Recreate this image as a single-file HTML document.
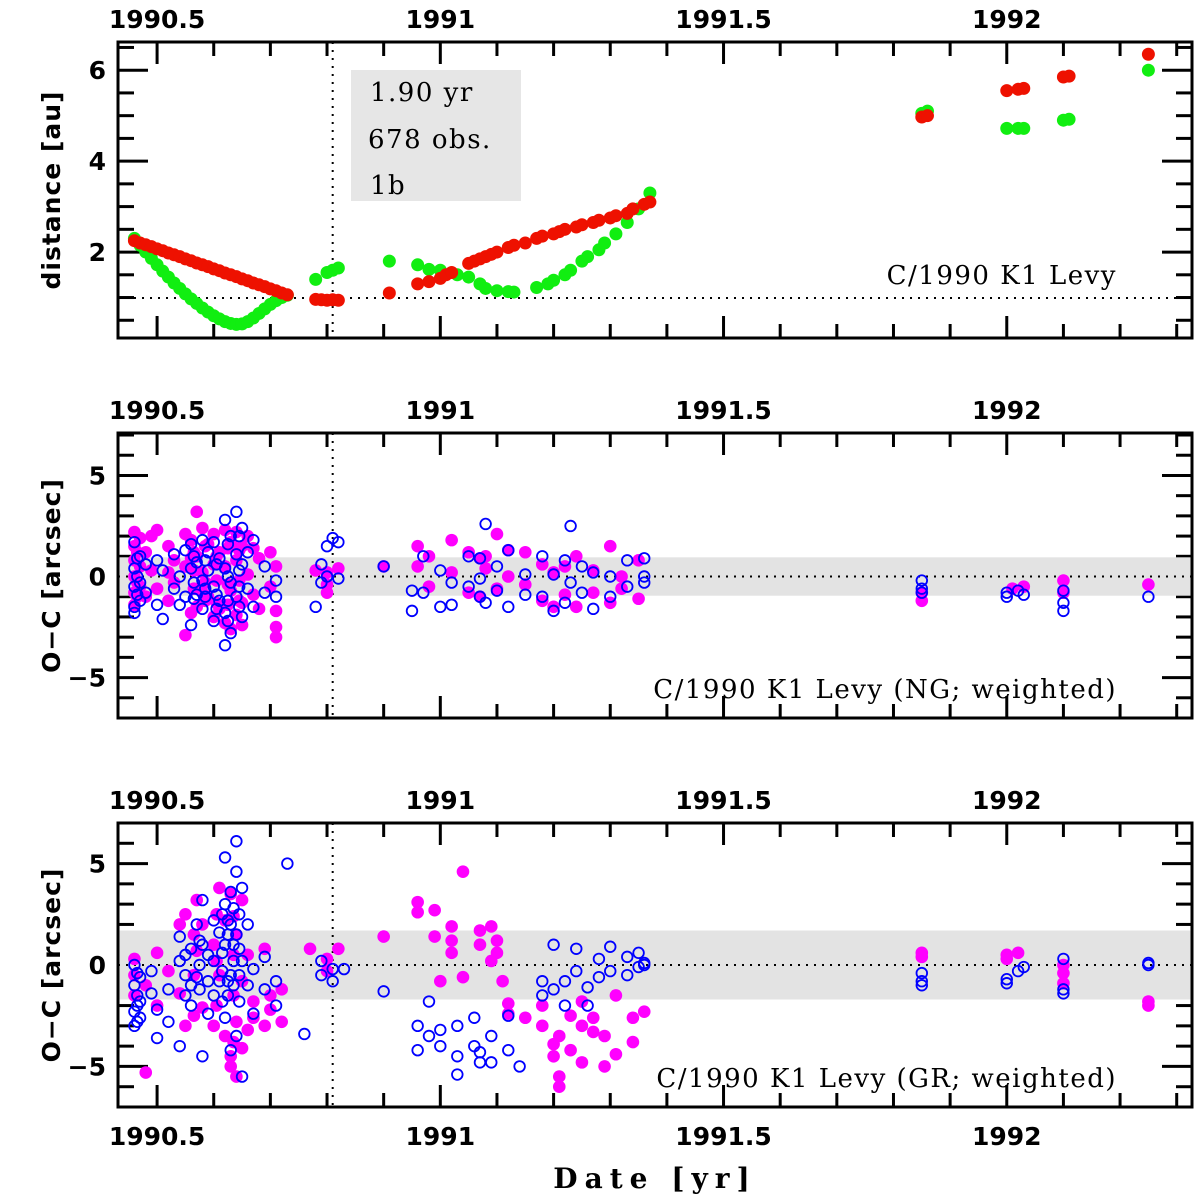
<!DOCTYPE html>
<html><head><meta charset="utf-8">
<style>
html,body{margin:0;padding:0;background:#fff;}
svg{display:block;}
text{font-family:"DejaVu Sans","Liberation Sans",sans-serif;font-weight:bold;fill:#000;}
.ann{font-family:"DejaVu Serif","Liberation Serif",serif;font-weight:normal;font-size:26px;letter-spacing:1.5px;}
</style></head>
<body>
<svg id="chart" width="1200" height="1204" viewBox="0 0 1200 1204" xmlns="http://www.w3.org/2000/svg"></svg>
<script>
// ---- data ----
const xTickLabels = [1990.5, 1991, 1991.5, 1992];
const distRedX = [1990.46,1990.47,1990.48,1990.49,1990.50,1990.51,1990.52,1990.53,1990.54,1990.55,1990.56,1990.57,1990.58,1990.59,1990.60,1990.61,1990.62,1990.63,1990.64,1990.65,1990.66,1990.67,1990.68,1990.69,1990.70,1990.71,1990.72,1990.73,1990.78,1990.79,1990.80,1990.81,1990.82,1990.91,1990.96,1990.98,1991.00,1991.01,1991.02,1991.05,1991.06,1991.07,1991.08,1991.09,1991.10,1991.12,1991.13,1991.15,1991.17,1991.18,1991.20,1991.21,1991.22,1991.24,1991.25,1991.27,1991.28,1991.30,1991.31,1991.33,1991.34,1991.36,1991.37,1991.85,1991.86,1992.00,1992.02,1992.03,1992.10,1992.11,1992.25];
const distRedY = [2.25,2.2,2.16,2.12,2.07,2.03,1.98,1.94,1.9,1.85,1.81,1.76,1.72,1.68,1.63,1.59,1.54,1.5,1.46,1.41,1.37,1.32,1.28,1.24,1.19,1.15,1.1,1.06,0.96,0.95,0.94,0.95,0.94,1.1,1.3,1.35,1.42,1.5,1.55,1.75,1.8,1.85,1.9,1.95,2.0,2.1,2.15,2.2,2.3,2.35,2.4,2.45,2.5,2.55,2.6,2.65,2.7,2.75,2.8,2.85,2.95,3.05,3.1,4.97,5.0,5.55,5.58,5.6,5.85,5.87,6.35];
const distGreenX = [1990.46,1990.47,1990.48,1990.49,1990.50,1990.51,1990.52,1990.53,1990.54,1990.55,1990.56,1990.57,1990.58,1990.59,1990.60,1990.61,1990.62,1990.63,1990.64,1990.65,1990.66,1990.67,1990.68,1990.69,1990.70,1990.71,1990.72,1990.73,1990.78,1990.80,1990.81,1990.82,1990.91,1990.96,1990.98,1991.00,1991.03,1991.05,1991.07,1991.08,1991.10,1991.12,1991.13,1991.17,1991.19,1991.20,1991.22,1991.23,1991.25,1991.26,1991.28,1991.29,1991.31,1991.33,1991.35,1991.37,1991.85,1991.86,1992.00,1992.02,1992.03,1992.10,1992.11,1992.25];
const distGreenY = [2.3,2.15,2.0,1.86,1.72,1.58,1.45,1.32,1.2,1.08,0.97,0.87,0.77,0.68,0.6,0.53,0.47,0.43,0.41,0.42,0.47,0.55,0.65,0.75,0.85,0.93,1.0,1.05,1.4,1.55,1.6,1.65,1.8,1.72,1.62,1.6,1.5,1.45,1.3,1.2,1.15,1.13,1.12,1.22,1.3,1.38,1.5,1.6,1.8,1.9,2.05,2.2,2.4,2.65,2.95,3.3,5.05,5.1,4.72,4.72,4.72,4.9,4.92,6.0];
// O-C groups: [year, [values...]]
const ngMagenta = [[1990.46,[2.2,1.5,0.8,0,-0.8,-1.4]],[1990.465,[1.2,-0.3,-1.0]],[1990.47,[1.9,0.5,-0.5]],[1990.48,[1.2,-1.0]],[1990.49,[2.0,0.3]],[1990.50,[2.3,-0.6]],[1990.52,[1.5,0.2,-1.2]],[1990.53,[0.8,-0.3]],[1990.55,[2.1,-2.9,0.5]],[1990.56,[1.8,-1.8,0.9]],[1990.565,[1.2,0.3,-0.6]],[1990.57,[3.2,1.0,-1.5]],[1990.58,[2.4,0.2,-0.8]],[1990.585,[1.5,-0.3,-1.2]],[1990.59,[1.6,-1.0]],[1990.60,[2.1,-2.0,0.6]],[1990.605,[1.0,-0.2,-1.3]],[1990.61,[1.2,-1.6]],[1990.62,[2.3,0.5,-2.3]],[1990.625,[1.4,-0.4,-1.4]],[1990.63,[1.7,-0.7,-2.6]],[1990.64,[2.2,0.8,-1.9]],[1990.645,[1.3,-0.2,-1.2]],[1990.65,[1.5,-1.3,-2.4]],[1990.66,[2.0,0.1]],[1990.67,[1.4,-0.9]],[1990.68,[0.9,-1.6]],[1990.70,[1.2,-0.5]],[1990.71,[-1.7,-2.5,-3.0,0.5]],[1990.78,[0.3]],[1990.80,[0.2,-0.4,-0.8]],[1990.82,[0.4]],[1990.90,[0.5]],[1990.96,[1.5,0.5]],[1990.98,[1.0,-0.5]],[1991.02,[1.8,0.2]],[1991.05,[1.2,-0.8]],[1991.07,[0.9,-1.0]],[1991.08,[1.0,0.4]],[1991.10,[2.1,-0.6]],[1991.12,[1.3,0.0]],[1991.15,[1.2,-0.4]],[1991.18,[0.6,-1.2]],[1991.20,[-1.5,0.2]],[1991.22,[0.5,-0.9]],[1991.24,[1.0,-1.5]],[1991.27,[0.3,-0.8]],[1991.30,[-1.3,1.5]],[1991.32,[0.0,-0.6]],[1991.35,[0.8,-1.1]],[1991.85,[-0.8,-1.2]],[1992.01,[-0.6]],[1992.03,[-0.5]],[1992.10,[-0.2,-0.8]],[1992.25,[-0.4]]];
const ngBlue = [[1990.46,[1.7,0.4,-0.5,-1.5,-1.8]],[1990.465,[0.9,0.0,-0.9]],[1990.47,[1.0,-0.3,-1.2]],[1990.48,[0.6,-0.8]],[1990.50,[0.8,-1.4]],[1990.51,[-2.1,0.3]],[1990.53,[1.1,-0.6]],[1990.54,[0.0,-1.4]],[1990.55,[1.3,-1.0]],[1990.56,[1.6,0.4,-2.4]],[1990.565,[1.0,-0.3,-1.1]],[1990.57,[0.7,-0.9]],[1990.58,[1.8,-0.2,-1.6]],[1990.585,[0.8,-0.6,-1.0]],[1990.59,[1.2,0.3]],[1990.60,[1.7,-0.5,-2.2]],[1990.605,[0.6,-0.9,-1.6]],[1990.61,[0.9,-1.2]],[1990.62,[2.8,0.4,-1.8,-3.4]],[1990.625,[1.6,0.0,-1.2,-2.2]],[1990.63,[2.0,-0.3,-2.8]],[1990.64,[3.2,1.1,-1.0]],[1990.645,[2.0,0.3,-0.5,-1.5]],[1990.65,[2.4,0.6,-2.0]],[1990.66,[1.2,-0.6]],[1990.67,[1.8,-1.5]],[1990.69,[0.5,-0.8]],[1990.71,[-0.2,-1.0]],[1990.78,[-1.5]],[1990.79,[0.6,-0.3]],[1990.80,[1.5,0.0]],[1990.81,[1.9]],[1990.82,[1.7,-0.1]],[1990.90,[0.5]],[1990.95,[-1.7,-0.7]],[1990.97,[1.0,-0.8]],[1991.00,[0.3,-1.5]],[1991.02,[-0.3,-1.4]],[1991.05,[1.0,-0.5]],[1991.07,[0.9,-1.0,-0.1]],[1991.08,[2.6,-1.3]],[1991.10,[0.5,-0.7]],[1991.12,[1.3,-1.5]],[1991.15,[0.1,-0.9]],[1991.18,[1.0,-1.0]],[1991.20,[-1.7,0.1]],[1991.22,[0.8,-1.3]],[1991.23,[2.5,-0.3]],[1991.25,[-0.8,0.5]],[1991.27,[-1.6,0.2]],[1991.30,[0.0,-1.0]],[1991.33,[0.8,-0.5]],[1991.36,[0.9,0.0,-0.3]],[1991.85,[-0.2,-0.6,-0.8]],[1992.00,[-1.0,-0.8]],[1992.02,[-0.7]],[1992.03,[-0.9]],[1992.10,[-0.7,-1.3,-1.7]],[1992.25,[-1.0]]];
const grMagenta = [[1990.46,[-0.5,-1.5,0.3]],[1990.48,[-5.3,-1.0]],[1990.50,[0.6,-2.0]],[1990.52,[-0.3]],[1990.54,[2.0,-1.4]],[1990.55,[2.5,-3.0]],[1990.565,[1.5,-0.5,-2.5]],[1990.57,[3.2,0.7]],[1990.58,[2.0,-2.1]],[1990.60,[1.0,-3.0]],[1990.605,[2.5,0.2,-2.0]],[1990.61,[3.8,-0.5]],[1990.62,[2.2,-3.5]],[1990.63,[3.5,-4.5,-5.0]],[1990.635,[2.4,0.5,-1.5,-3.8]],[1990.64,[1.5,-2.8,-5.5]],[1990.65,[3.2,-0.8,-4.1]],[1990.66,[0.5,-3.2]],[1990.67,[-1.8,-2.6]],[1990.69,[0.8,-3.0]],[1990.70,[-1.5,-2.2]],[1990.72,[-1.2,-2.8]],[1990.77,[0.8]],[1990.80,[-0.3,0.3]],[1990.82,[0.8]],[1990.90,[1.4]],[1990.96,[3.1,2.6]],[1990.99,[2.7,1.4]],[1991.00,[-0.8]],[1991.02,[1.9,1.2,0.6]],[1991.04,[4.6,-0.6]],[1991.07,[1.7,1.0]],[1991.09,[1.9,0.2]],[1991.10,[1.2,0.6]],[1991.11,[-0.8]],[1991.12,[-1.9,-2.4]],[1991.15,[-2.6]],[1991.18,[-3.0,-2.0]],[1991.20,[-3.9,-4.5]],[1991.21,[-5.5,-6.0,-3.5]],[1991.23,[-2.5,-4.2]],[1991.25,[-3.0,-1.8,-4.8]],[1991.27,[-3.3,-2.6]],[1991.29,[-3.5,-5.0]],[1991.31,[-1.5,-4.4]],[1991.34,[-2.6,-3.8]],[1991.36,[-2.3]],[1991.85,[0.6,0.4]],[1992.00,[0.3,0.5]],[1992.02,[0.6]],[1992.10,[0.0,-0.4,-0.9]],[1992.25,[-1.8,-2.0]]];
const grBlue = [[1990.46,[0.0,-1.0,-2.3,-3.0]],[1990.465,[-0.4,-1.5,-2.0,-2.8]],[1990.47,[-0.6,-1.8,-2.6]],[1990.49,[-0.3,-1.4]],[1990.50,[-2.2,-3.6]],[1990.52,[-1.2,-2.8]],[1990.54,[1.4,0.2,-4.0]],[1990.55,[0.5,-0.5,-1.5]],[1990.56,[0.8,-1.0,-2.0]],[1990.57,[2.0,-0.6]],[1990.575,[1.2,0.0,-1.2]],[1990.58,[3.2,1.0,-4.5]],[1990.59,[0.5,-0.8,-2.4]],[1990.60,[2.2,0.2,-1.5]],[1990.61,[1.6,-0.8]],[1990.615,[2.5,0.6,-0.3,-1.8]],[1990.62,[5.3,3.0,1.0,-2.6]],[1990.625,[2.2,1.5,-0.8,-1.5]],[1990.63,[3.6,2.0,-0.5,-4.2]],[1990.635,[2.8,1.0,0.2,-1.0]],[1990.64,[6.1,4.6,1.5,-3.5]],[1990.645,[2.5,0.8,-0.5,-1.8]],[1990.65,[3.8,0.2,-5.5]],[1990.66,[2.0,-1.0]],[1990.67,[-0.2,-2.4]],[1990.69,[0.4,-1.2]],[1990.71,[-0.8,-2.0]],[1990.73,[5.0]],[1990.76,[-3.4]],[1990.79,[-0.5,0.2]],[1990.81,[-0.8,-0.2]],[1990.83,[-0.2]],[1990.90,[-1.3]],[1990.96,[-3.0,-4.2]],[1990.98,[-1.8,-3.5]],[1991.00,[-3.2,-4.0]],[1991.03,[-3.0,-5.4,-4.5]],[1991.06,[-2.6,-4.0]],[1991.07,[-4.8,-4.3]],[1991.09,[-3.5,-4.8]],[1991.12,[-2.5,-4.2]],[1991.14,[-5.0]],[1991.18,[-1.5,-0.8]],[1991.20,[1.0,-1.2]],[1991.22,[-2.0,-0.8]],[1991.24,[0.8,-0.3]],[1991.26,[-1.1,-2.0]],[1991.28,[0.3,-0.6]],[1991.30,[0.9,-0.3]],[1991.33,[-0.5,0.4]],[1991.35,[0.6,-0.1]],[1991.36,[0.0,0.1]],[1991.85,[-0.4,-0.8,-1.0]],[1992.00,[-0.7,-0.9]],[1992.02,[-0.3]],[1992.03,[-0.1]],[1992.10,[0.3,-1.2,-1.4]],[1992.25,[0.0,0.1]]];

// ---- layout ----
const NS = "http://www.w3.org/2000/svg";
const svg = document.getElementById('chart');
const X0 = 118, X1 = 1192, YR0 = 1990.431, YR1 = 1992.327;
const xs = v => X0 + (v - YR0) / (YR1 - YR0) * (X1 - X0);
function mk(tag, attrs, parent, txt) {
  const e = document.createElementNS(NS, tag);
  for (const k in attrs) e.setAttribute(k, attrs[k]);
  if (txt !== undefined) e.textContent = txt;
  (parent || svg).appendChild(e);
  return e;
}
function panel(name, top, bot, ymin, ymax, yMajor, yMinor, yLabels, yTitle) {
  const g = mk('g', {});
  
  
  const ys = v => bot - (v - ymin) / (ymax - ymin) * (bot - top);
  for (let t = 1990.5; t <= 1992.3; t += 0.1) {
    const x = xs(t);
    const big = Math.abs(t*2 - Math.round(t*2)) < 1e-6;
    const L = big ? 22 : 14;
    mk('line', {x1:x, x2:x, y1:top, y2:top+L, stroke:'#000','stroke-width':3}, g);
    mk('line', {x1:x, x2:x, y1:bot, y2:bot-L, stroke:'#000','stroke-width':3}, g);
  }
  for (let v = Math.ceil(ymin/yMinor)*yMinor; v <= ymax; v += yMinor) {
    const y = ys(v);
    const big = Math.abs(v/yMajor - Math.round(v/yMajor)) < 1e-6;
    const L = big ? 30 : 16;
    mk('line', {x1:X0, x2:X0+L, y1:y, y2:y, stroke:'#000','stroke-width':3}, g);
    mk('line', {x1:X1, x2:X1-L, y1:y, y2:y, stroke:'#000','stroke-width':3}, g);
  }
  xTickLabels.forEach(t => {
    const tx = mk('text', {x:xs(t), y:top-14, 'text-anchor':'middle','font-size':25}, g, String(t));
    
    
  });
  yLabels.forEach(v => {
    const tx = mk('text', {x:X0-12, y:ys(v)+9, 'text-anchor':'end','font-size':25}, g, String(v).replace('-', '\u2212'));
    
    
  });
  const yt = mk('text', {x:0, y:0, 'text-anchor':'middle','font-size':25, transform:`translate(60 ${(top+bot)/2}) rotate(-90)`, 'letter-spacing':'1'}, g, yTitle);
  
  
  return {g, ys, top, bot};
}
function frame(p) {
  const r = mk('rect', {x:X0, y:p.top, width:X1-X0, height:p.bot-p.top, fill:'none', stroke:'#000','stroke-width':3}, p.g);
  
  
}
function vline(p) {
  mk('line', {x1:xs(1990.81), x2:xs(1990.81), y1:p.top, y2:p.bot, stroke:'#000','stroke-width':2,'stroke-dasharray':'2 6'}, p.g);
}
function hline(p, v) {
  mk('line', {x1:X0, x2:X1, y1:p.ys(v), y2:p.ys(v), stroke:'#000','stroke-width':2,'stroke-dasharray':'2 6'}, p.g);
}
function dots(p, X, Y, color, name) {
  X.forEach((x, i) => {
    const c = mk('circle', {cx:xs(x), cy:p.ys(Y[i]), r:6.5, fill:color}, p.g);
    
    
  });
}
function groups(p, G, color, filled, name) {
  G.forEach(([x, vals]) => vals.forEach(v => {
    const c = mk('circle', filled ? {cx:xs(x), cy:p.ys(v), r:6.3, fill:color}
                                  : {cx:xs(x), cy:p.ys(v), r:5.3, fill:'none', stroke:color, 'stroke-width':1.8}, p.g);
    
    
  }));
}

// Panel 1
const p1 = panel('distance-panel', 42, 338, 0.11, 6.62, 2, 0.5, [2,4,6], 'distance [au]');
hline(p1, 0.99); vline(p1);
const box = mk('rect', {x:351, y:70, width:170, height:131, fill:'#e6e6e6'}, p1.g);


mk('text', {x:370, y:101, class:'ann'}, p1.g, '1.90 yr');
mk('text', {x:368, y:148, class:'ann'}, p1.g, '678 obs.');
mk('text', {x:370, y:194, class:'ann'}, p1.g, '1b');
dots(p1, distGreenX, distGreenY, '#11ee11', 'green-distance-point');
dots(p1, distRedX, distRedY, '#ee1100', 'red-distance-point');
mk('text', {x:1117, y:284, 'text-anchor':'end', class:'ann'}, p1.g, 'C/1990 K1 Levy');
frame(p1);

// Panel 2
const p2 = panel('ng-residuals-panel', 433, 718, -7.0, 7.1, 5, 1, [5,0,-5], 'O\u2212C [arcsec]');
mk('rect', {x:X0, y:p2.ys(0.95), width:X1-X0, height:p2.ys(-0.95)-p2.ys(0.95), fill:'#e3e3e3'}, p2.g);
hline(p2, 0); vline(p2);
groups(p2, ngMagenta, '#ff00ff', true, 'ng-magenta-point');
groups(p2, ngBlue, '#0000ff', false, 'ng-blue-point');
mk('text', {x:1117, y:698, 'text-anchor':'end', class:'ann'}, p2.g, 'C/1990 K1 Levy (NG; weighted)');
frame(p2);

// Panel 3
const p3 = panel('gr-residuals-panel', 823, 1107, -7.0, 7.0, 5, 1, [5,0,-5], 'O\u2212C [arcsec]');
mk('rect', {x:X0, y:p3.ys(1.7), width:X1-X0, height:p3.ys(-1.7)-p3.ys(1.7), fill:'#e3e3e3'}, p3.g);
hline(p3, 0); vline(p3);
groups(p3, grMagenta, '#ff00ff', true, 'gr-magenta-point');
groups(p3, grBlue, '#0000ff', false, 'gr-blue-point');
mk('text', {x:1117, y:1087, 'text-anchor':'end', class:'ann'}, p3.g, 'C/1990 K1 Levy (GR; weighted)');
frame(p3);
xTickLabels.forEach(t => {
  const tx = mk('text', {x:xs(t), y:1145, 'text-anchor':'middle','font-size':25}, svg, String(t));
  
  
});
const xt = mk('text', {x:655, y:1188, 'text-anchor':'middle', class:'ann', style:'font-weight:bold;font-size:28px;letter-spacing:7px'}, svg, 'Date [yr]');


</script>
</body></html>
